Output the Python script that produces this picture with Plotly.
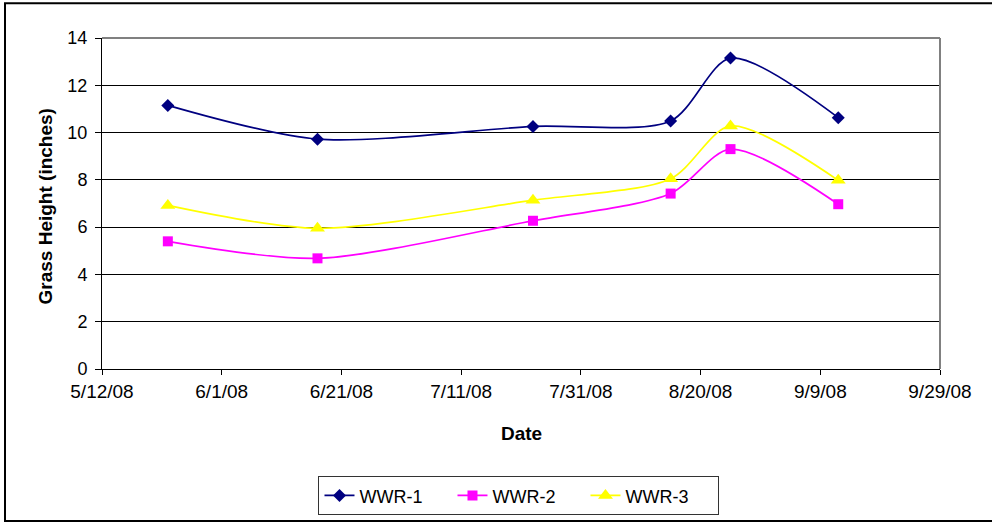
import plotly.graph_objects as go

dates = ["2008-05-23", "2008-06-17", "2008-07-23", "2008-08-15", "2008-08-25", "2008-09-12"]
wwr1 = [11.15, 9.72, 10.26, 10.49, 13.15, 10.63]
wwr2 = [5.4, 4.68, 6.27, 7.42, 9.3, 6.97]
wwr3 = [6.92, 5.95, 7.14, 8.05, 10.28, 7.98]
series_names = ["WWR-1", "WWR-2", "WWR-3"]
x_ticks = ["2008-05-12", "2008-06-01", "2008-06-21", "2008-07-11", "2008-07-31",
           "2008-08-20", "2008-09-09", "2008-09-29"]
x_tick_labels = ["5/12/08", "6/1/08", "6/21/08", "7/11/08", "7/31/08", "8/20/08", "9/9/08", "9/29/08"]

font = "Liberation Sans, Arial, sans-serif"

fig = go.Figure()
styles = [
    dict(color="#000080", symbol="diamond", size=10),
    dict(color="#FF00FF", symbol="square", size=10),
    dict(color="#FFFF00", symbol="triangle-up", size=13),
]
for name, vals, st in zip(series_names, [wwr1, wwr2, wwr3], styles):
    fig.add_trace(go.Scatter(
        x=dates, y=vals, name=name, mode="lines+markers",
        line=dict(color=st["color"], width=1.7, shape="spline", smoothing=0.8),
        marker=dict(color=st["color"], symbol=st["symbol"], size=st["size"]),
    ))

fig.update_layout(
    width=992, height=527,
    margin=dict(l=102, r=52, t=38, b=155),
    paper_bgcolor="white", plot_bgcolor="white",
    font=dict(family=font, size=18, color="black"),
    showlegend=True,
    legend=dict(orientation="h", x=0.4976, y=-0.383, xanchor="center", yanchor="middle",
                bordercolor="#333333", borderwidth=1, font=dict(size=18, family=font),
                entrywidth=88, entrywidthmode="pixels", tracegroupgap=0),
)
fig.update_xaxes(
    type="date", range=["2008-05-12", "2008-09-29"],
    tickvals=x_ticks, ticktext=x_tick_labels,
    ticks="outside", ticklen=5, tickcolor="black",
    showline=True, linecolor="black", linewidth=1, mirror=False,
    showgrid=False, zeroline=False,
    tickfont=dict(size=19, family=font),
)
fig.update_yaxes(
    range=[0, 14], dtick=2, tick0=0,
    ticks="outside", ticklen=6, tickcolor="black", ticklabelstandoff=4,
    showline=True, linecolor="black", linewidth=1,
    showgrid=True, gridcolor="black", gridwidth=1, zeroline=False,
    tickfont=dict(size=18, family=font),
)
# right/top plot-area border (gray)
fig.add_shape(type="line", xref="paper", yref="paper", x0=0, x1=1, y0=1, y1=1,
              line=dict(color="#808080", width=2))
fig.add_shape(type="line", xref="paper", yref="paper", x0=1, x1=1, y0=0, y1=1,
              line=dict(color="#808080", width=2))
# outer chart border
fig.add_shape(type="rect", xref="paper", yref="paper",
              x0=(5 - 102) / 838, x1=(998 - 102) / 838,
              y0=(372 - 525.5) / 334, y1=(372 - 3) / 334,
              line=dict(color="black", width=2), layer="below")

fig.add_annotation(text="<b>Date</b>", xref="paper", yref="paper",
                   x=0.5, y=(372 - 437) / 334, showarrow=False,
                   font=dict(size=19, family=font), xanchor="center", yanchor="middle")
fig.add_annotation(text="<b>Grass Height (inches)</b>", xref="paper", yref="paper",
                   x=(45 - 102) / 838, y=(372 - 208) / 334, showarrow=False, textangle=-90,
                   font=dict(size=19, family=font), xanchor="center", yanchor="middle")

fig.write_html("out.html", config={"displayModeBar": False},
               post_script="document.body.style.margin='0';")
